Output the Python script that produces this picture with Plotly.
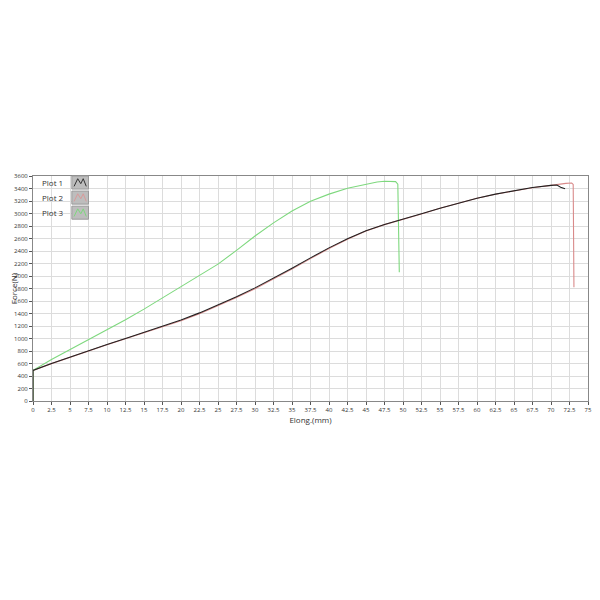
import plotly.graph_objects as go

# Plot 1 (black)
elong_p1 = [0, 0, 2.5, 5, 7.5, 10, 12.5, 15, 17.5, 20, 22.5, 25, 27.5, 30, 32.5, 35,
            37.5, 40, 42.5, 45, 47.5, 50, 52.5, 55, 57.5, 60, 62.5, 65, 67.5, 70,
            70.8, 71.3, 71.9]
force_p1 = [0, 490, 600, 705, 810, 905, 1000, 1095, 1190, 1295, 1410, 1535, 1670, 1810, 1965, 2125,
            2290, 2450, 2595, 2725, 2825, 2905, 2995, 3085, 3170, 3245, 3310, 3365, 3415, 3450,
            3455, 3420, 3395]

# Plot 2 (red)
elong_p2 = [0, 0, 2.5, 5, 7.5, 10, 12.5, 15, 17.5, 20, 22.5, 25, 27.5, 30, 32.5, 35,
            37.5, 40, 42.5, 45, 47.5, 50, 52.5, 55, 57.5, 60, 62.5, 65, 67.5, 70,
            71, 72, 72.8, 73.0, 73.1]
force_p2 = [0, 490, 598, 700, 805, 900, 995, 1088, 1182, 1285, 1398, 1522, 1655, 1795, 1950, 2110,
            2278, 2440, 2588, 2720, 2822, 2903, 2993, 3083, 3168, 3243, 3308, 3363, 3413, 3450,
            3468, 3482, 3488, 3465, 1820]

# Plot 3 (green)
elong_p3 = [0, 0, 2.5, 5, 7.5, 10, 12.5, 15, 17.5, 20, 22.5, 25, 27.5, 30, 32.5, 35,
            37.5, 40, 42.5, 45, 46.5, 47.5, 48.5, 49.0, 49.3, 49.5]
force_p3 = [0, 490, 665, 825, 975, 1135, 1300, 1470, 1645, 1830, 2010, 2190, 2410, 2640, 2850, 3040,
            3195, 3310, 3405, 3470, 3505, 3515, 3515, 3510, 3470, 2060]

x_ticks = [i * 2.5 for i in range(31)]
x_labels = [str(int(v)) if v == int(v) else str(v) for v in x_ticks]
y_ticks = list(range(0, 3601, 200))

series = [
    ("Plot 2", elong_p2, force_p2, "#d98a8a"),
    ("Plot 3", elong_p3, force_p3, "#7ed87e"),
    ("Plot 1", elong_p1, force_p1, "#222222"),
]

fig = go.Figure()
for nombre, xs, ys, color in series:
    fig.add_trace(go.Scatter(x=xs, y=ys, mode="lines", name=nombre,
                             line=dict(color=color, width=1.1)))

# legend drawn by hand: text on the left, grey swatch with zigzag on the right
legend_rows = [("Plot 1", "#333333"), ("Plot 2", "#d99a9a"), ("Plot 3", "#7ed87e")]
for i, (texto, color) in enumerate(legend_rows):
    top = 1.0 - i * 0.067
    bottom = top - 0.058
    fig.add_annotation(x=0.012, y=(top + bottom) / 2, xref="paper", yref="paper",
                       text=texto, showarrow=False, xanchor="left", yanchor="middle",
                       font=dict(size=8, color="#333333"))
    fig.add_shape(type="rect", xref="paper", yref="paper", x0=0.07, x1=0.1, y0=bottom, y1=top,
                  fillcolor="#bdbdbd", line=dict(color="#9a9a9a", width=1))
    x0, x1 = 0.074, 0.096
    w = x1 - x0
    yb, yt = bottom + 0.012, top - 0.012
    path = (f"M {x0} {yb} L {x0 + w*0.3} {yt} L {x0 + w*0.55} {yb + (yt-yb)*0.35} "
            f"L {x0 + w*0.75} {yt} L {x1} {yb}")
    fig.add_shape(type="path", xref="paper", yref="paper", path=path,
                  line=dict(color=color, width=1))

# the page body adds an 8px offset; keep the figure short enough to avoid a scrollbar
fig.update_layout(
    width=592, height=560,
    margin=dict(l=25, r=12, t=168, b=167),
    paper_bgcolor="white", plot_bgcolor="white",
    showlegend=False,
    font=dict(family="Open Sans", color="#444444"),
)
fig.update_xaxes(
    range=[0, 75], tickvals=x_ticks, ticktext=x_labels, automargin=False,
    ticklabeloverflow="allow",
    tickfont=dict(size=6, color="#333333"), ticks="outside", ticklen=3, tickcolor="#555555",
    showgrid=True, gridcolor="#dcdcdc", gridwidth=1,
    showline=True, linecolor="#888888", mirror=True, zeroline=False,
    title=dict(text="Elong.(mm)", font=dict(size=8, color="#333333"), standoff=4),
)
fig.update_yaxes(
    range=[0, 3600], tickvals=y_ticks, automargin=False,
    ticklabeloverflow="allow",
    tickfont=dict(size=6, color="#333333"), ticks="outside", ticklen=3, tickcolor="#555555",
    showgrid=True, gridcolor="#dcdcdc", gridwidth=1,
    showline=True, linecolor="#888888", mirror=True, zeroline=False,
    title=dict(text="Force(N)", font=dict(size=8, color="#333333"), standoff=2),
)

fig.write_html("out.html")
